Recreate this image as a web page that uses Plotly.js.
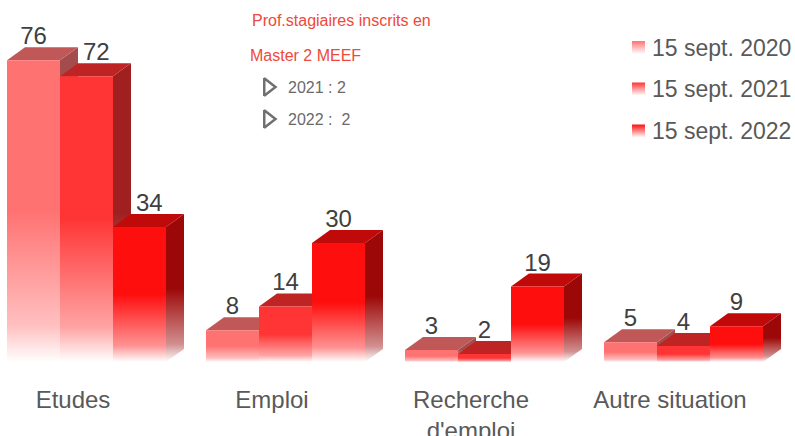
<!DOCTYPE html>
<html>
<head>
<meta charset="utf-8">
<script src="https://cdn.plot.ly/plotly-3.0.1.min.js"></script>
<style>html,body{margin:0;padding:0;background:#fff;}#chart{width:795px;height:436px;}</style>
</head>
<body>
<div id="chart"></div>
<script>
// ---- data ----
const categories = ['Etudes', 'Emploi', "Recherche<br>d'emploi", 'Autre situation'];
const seriesNames = ['15 sept. 2020', '15 sept. 2021', '15 sept. 2022'];
const values2020 = [76, 8, 3, 5];
const values2021 = [72, 14, 2, 4];
const values2022 = [34, 30, 19, 9];
const noteTitle = ['Prof.stagiaires inscrits en', 'Master 2 MEEF'];
const noteLines = ['2021 : 2', '2022 :  2'];

// ---- styles ----
const series = [values2020, values2021, values2022];
const frontCol = ['#ff7272', '#ff3535', '#ff0e0e'];
const topCol = ['#c05858', '#bf2424', '#c00a0a'];
const sideCol = ['#a44c4c', '#a01f1f', '#9c0707'];

const PX = 199;            // pixels per category group
const PXY = 3.97;          // pixels per unit
const BW = 53 / PX;        // bar width (x units)
const DX = 18 / PX;        // depth offset x
const DY = 13 / PXY;       // depth offset y
const X0 = -79.5 / PX;     // left edge of first bar relative to group center
const xa = -86.5 / PX;
const xRange = [xa, xa + 795 / PX];
const yRange = [0, 362 / PXY];
const LABEL_FS = 24;

function blend(hex, t) {
  const r = parseInt(hex.slice(1, 3), 16), g = parseInt(hex.slice(3, 5), 16), b = parseInt(hex.slice(5, 7), 16);
  const m = c => Math.round(c + (255 - c) * t);
  return 'rgb(' + m(r) + ',' + m(g) + ',' + m(b) + ')';
}
function grad(col) {
  return {type: 'vertical', colorscale: [[0, '#ffffff'], [0.12, blend(col, 0.55)], [0.5, col], [1, col]]};
}

const traces = [];
const labX = [], labY = [], labT = [];
categories.forEach((c, i) => {
  series.forEach((vals, j) => {
    const v = vals[i];
    const x0 = i + X0 + j * BW, x1 = x0 + BW;
    // side face
    traces.push({type: 'scatter', mode: 'lines', x: [x1, x1 + DX, x1 + DX, x1, x1], y: [0, DY, v + DY, v, 0],
      fill: 'toself', line: {width: 0}, fillgradient: grad(sideCol[j]), hoverinfo: 'skip'});
    // top face
    traces.push({type: 'scatter', mode: 'lines', x: [x0, x0 + DX, x1 + DX, x1, x0], y: [v, v + DY, v + DY, v, v],
      fill: 'toself', line: {width: 0}, fillcolor: topCol[j], hoverinfo: 'skip'});
    // front face
    traces.push({type: 'scatter', mode: 'lines', x: [x0, x1, x1, x0, x0], y: [0, 0, v, v, 0],
      fill: 'toself', line: {width: 0}, fillgradient: grad(frontCol[j]), hoverinfo: 'skip'});
    // value label: centered on the front face, nudged right if it would sit on the taller left neighbour's side
    let cx = (x0 + x1) / 2;
    const halfW = String(v).length * 0.556 * LABEL_FS / 2 / PX;
    if (j > 0 && series[j - 1][i] > v && cx - halfW < x0 + DX) cx = x0 + DX + 5 / PX + halfW;
    labX.push(cx); labY.push(v + DY - 3 / PXY); labT.push(String(v));
  });
});
traces.push({type: 'scatter', mode: 'text', x: labX, y: labY, text: labT, textposition: 'top center',
  textfont: {size: LABEL_FS, color: '#404040', family: 'Liberation Sans, Arial'}, cliponaxis: false, hoverinfo: 'skip'});

// legend swatches (pixel overlay axes)
const legY = [47.5, 89, 131];
traces.push({type: 'scatter', mode: 'markers', xaxis: 'x2', yaxis: 'y2', x: [638.5, 638.5, 638.5], y: legY,
  marker: {symbol: 'square', size: 13, color: frontCol, gradient: {type: 'vertical', color: '#ffffff'}, line: {width: 0}},
  hoverinfo: 'skip', cliponaxis: false});
// note bullets
const noteY = [87, 119];
traces.push({type: 'scatter', mode: 'markers', xaxis: 'x2', yaxis: 'y2', x: [268, 268], y: noteY,
  marker: {symbol: 'triangle-right-open', size: 15, color: '#707070', line: {width: 2.5, color: '#707070'}},
  hoverinfo: 'skip', cliponaxis: false});

const ann = [];
seriesNames.forEach((n, k) => ann.push({xref: 'x2', yref: 'y2', x: 650, y: legY[k], text: n, showarrow: false,
  xanchor: 'left', yanchor: 'middle', font: {size: 23, color: '#595959'}}));
ann.push({xref: 'x2', yref: 'y2', x: 250, y: 20, text: noteTitle[0], showarrow: false, xanchor: 'left', yanchor: 'middle',
  font: {size: 16, color: '#f0483a'}});
ann.push({xref: 'x2', yref: 'y2', x: 248, y: 55, text: noteTitle[1], showarrow: false, xanchor: 'left', yanchor: 'middle',
  font: {size: 16, color: '#f0483a'}});
noteY.forEach((yy, k) => {
  ann.push({xref: 'x2', yref: 'y2', x: 286, y: yy, text: noteLines[k], showarrow: false, xanchor: 'left', yanchor: 'middle',
    font: {size: 16, color: '#6a6a6a'}});
});

const layout = {
  width: 795, height: 436,
  margin: {l: 0, r: 0, t: 0, b: 74, pad: 0},
  paper_bgcolor: '#ffffff', plot_bgcolor: '#ffffff',
  showlegend: false,
  font: {family: 'Liberation Sans, Arial, sans-serif', color: '#595959'},
  xaxis: {range: xRange, tickvals: categories.map((c, i) => i - 13.5 / PX), ticktext: categories,
    showgrid: false, zeroline: false, showline: false, ticks: 'outside', ticklen: 16, tickcolor: 'rgba(0,0,0,0)',
    tickfont: {size: 24, color: '#595959'}, fixedrange: true},
  yaxis: {range: yRange, showgrid: false, zeroline: false, showline: false, showticklabels: false, fixedrange: true},
  xaxis2: {overlaying: 'x', anchor: 'y2', range: [0, 795], visible: false, fixedrange: true},
  yaxis2: {overlaying: 'y', anchor: 'x2', range: [362, 0], visible: false, fixedrange: true},
  annotations: ann
};

Plotly.newPlot('chart', traces, layout, {displayModeBar: false, staticPlot: true});
</script>
</body>
</html>
